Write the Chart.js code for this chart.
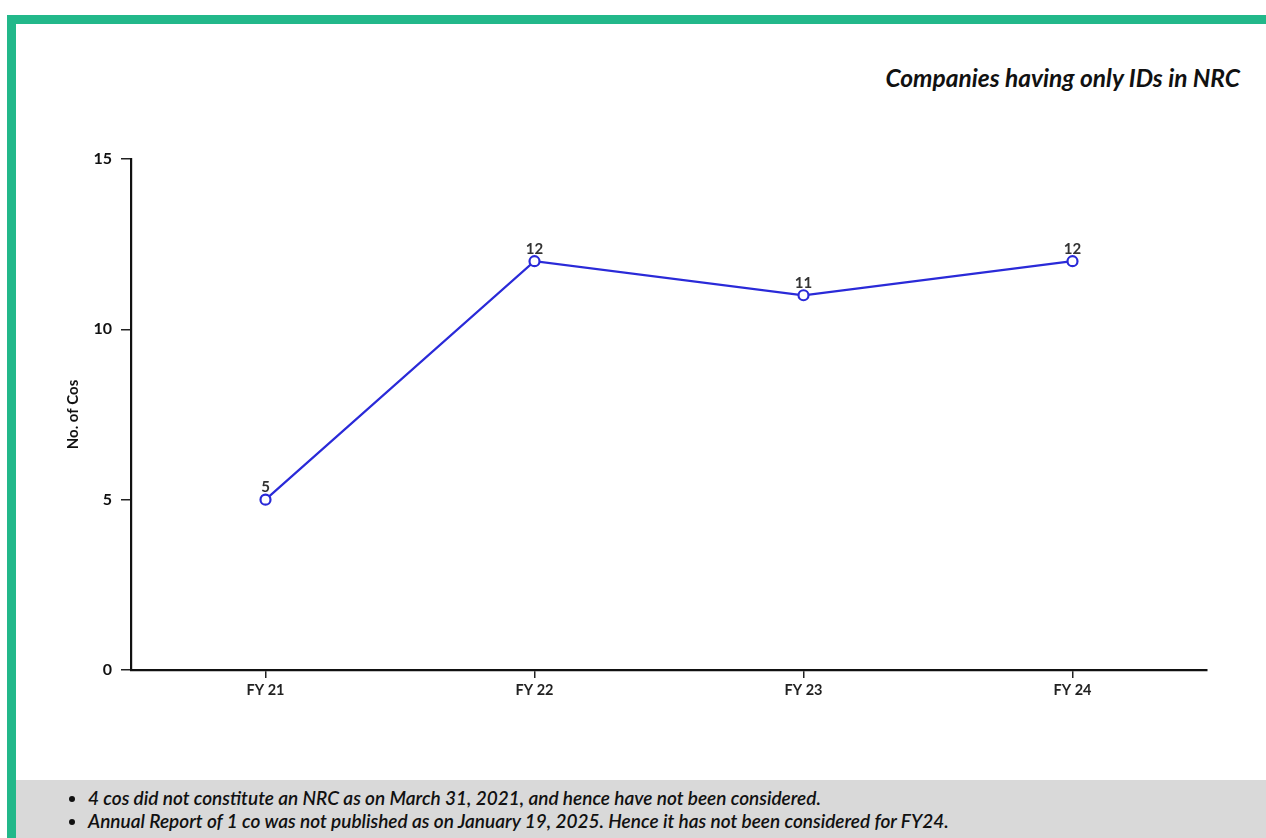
<!DOCTYPE html>
<html>
<head>
<meta charset="utf-8">
<script src="https://cdn.jsdelivr.net/npm/chart.js@4.4.1/dist/chart.umd.min.js"></script>
<style>
  html, body { margin: 0; padding: 0; background: #ffffff; }
  body { width: 1266px; height: 838px; position: relative; overflow: hidden; font-family: Lato, "Open Sans", sans-serif; }
  #topBorder { position: absolute; left: 7px; top: 15px; width: 1259px; height: 9px; background: #22b88a; }
  #leftBorder { position: absolute; left: 7px; top: 15px; width: 9px; height: 823px; background: #22b88a; }
  #title { position: absolute; right: 26px; top: 63px; font-size: 24.5px; font-weight: 700; font-style: italic; color: #111; white-space: nowrap; }
  #wrap { position: absolute; left: 16px; top: 24px; width: 1250px; height: 756px; }
  #notes { position: absolute; left: 16px; top: 780px; width: 1250px; height: 58px; background: #d9d9d9; }
  #notes ul { margin: 0; padding: 6px 0 0 72px; list-style: disc; }
  #notes li { font-size: 19px; font-style: italic; font-weight: 600; color: #111; line-height: 23px; }
</style>
</head>
<body>
<div id="topBorder"></div>
<div id="leftBorder"></div>
<div id="title">Companies having only IDs in NRC</div>
<div id="wrap"><canvas id="c" width="1250" height="756"></canvas></div>
<div id="notes">
  <ul>
    <li>4 cos did not constitute an NRC as on March 31, 2021, and hence have not been considered.</li>
    <li>Annual Report of 1 co was not published as on January 19, 2025. Hence it has not been considered for FY24.</li>
  </ul>
</div>
<script>
const categories = ["FY 21", "FY 22", "FY 23", "FY 24"];
const companiesOnlyIDs = [5, 12, 11, 12];
const yTickValues = [0, 5, 10, 15];
const yAxisTitle = "No. of Cos";

const lineColor = "#2a2ad8";
const fontFamily = "Lato, 'Open Sans', sans-serif";

const valueLabels = {
  id: "valueLabels",
  afterDatasetsDraw(chart) {
    const ctx = chart.ctx;
    const meta = chart.getDatasetMeta(0);
    ctx.save();
    ctx.font = "700 15px " + fontFamily;
    ctx.fillStyle = "#333";
    ctx.textAlign = "center";
    ctx.textBaseline = "bottom";
    meta.data.forEach((pt, i) => {
      ctx.fillText(String(chart.data.datasets[0].data[i]), pt.x, pt.y - 5);
    });
    ctx.restore();
  }
};

new Chart(document.getElementById("c"), {
  type: "line",
  data: {
    labels: categories,
    datasets: [{
      data: companiesOnlyIDs,
      borderColor: lineColor,
      borderWidth: 2.2,
      backgroundColor: "#ffffff",
      pointBackgroundColor: "#ffffff",
      pointBorderColor: lineColor,
      pointBorderWidth: 2.2,
      pointRadius: 5,
      tension: 0,
      fill: false
    }]
  },
  options: {
    responsive: false,
    animation: false,
    devicePixelRatio: 1,
    layout: { padding: { left: 45, right: 59, top: 135, bottom: 80 } },
    plugins: {
      legend: { display: false },
      tooltip: { enabled: false },
      title: { display: false }
    },
    scales: {
      x: {
        type: "category",
        offset: true,
        grid: { display: true, drawOnChartArea: false, drawTicks: true, tickLength: 8, color: "#222", lineWidth: 1.5, offset: false },
        border: { display: true, color: "#111", width: 2.2 },
        ticks: { color: "#222", font: { family: fontFamily, size: 14.5, weight: "700" }, padding: 4 },
        afterFit(s) { s.height = 30; }
      },
      y: {
        min: 0,
        max: 15,
        afterBuildTicks(s) { s.ticks = yTickValues.map(v => ({ value: v })); },
        grid: { display: true, drawOnChartArea: false, drawTicks: true, tickLength: 10, color: "#222", lineWidth: 1.5 },
        border: { display: true, color: "#111", width: 2.2 },
        ticks: { color: "#111", font: { family: fontFamily, size: 16, weight: "700" }, padding: 9 },
        title: { display: true, text: yAxisTitle, color: "#111", font: { family: fontFamily, size: 15, weight: "700" }, padding: { top: 3, bottom: 4 } },
        afterFit(s) { s.width = 70; }
      }
    }
  },
  plugins: [valueLabels]
});
</script>
</body>
</html>
